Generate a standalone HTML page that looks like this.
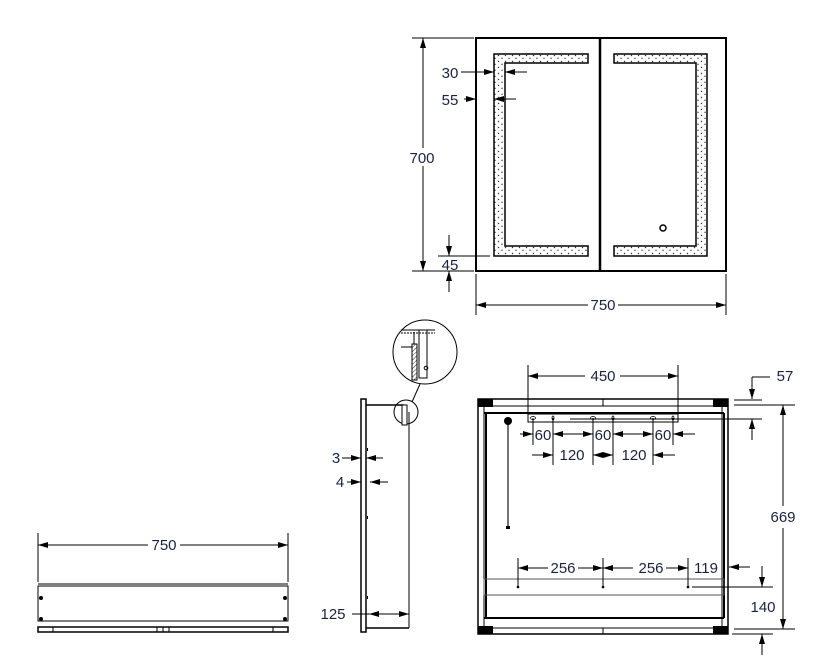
<!DOCTYPE html>
<html><head><style>
html,body{margin:0;padding:0;background:#fff;}
svg{display:block;}
text{font-family:"Liberation Sans",sans-serif;font-size:15px;fill:#1a2240;}
</style></head><body>
<svg width="826" height="658" viewBox="0 0 826 658" xmlns="http://www.w3.org/2000/svg">
<defs>
<marker id="a" viewBox="0 0 10 6" refX="10" refY="3" markerWidth="10" markerHeight="6" orient="auto-start-reverse" markerUnits="userSpaceOnUse"><path d="M0,0L10,3L0,6z" fill="#000"/></marker>
<pattern id="dots" width="7" height="6" patternUnits="userSpaceOnUse"><rect width="7" height="6" fill="#fff"/><circle cx="1.5" cy="1.5" r="0.7" fill="#333"/><circle cx="5" cy="4.3" r="0.7" fill="#333"/></pattern>
<pattern id="hatch" width="3" height="3" patternUnits="userSpaceOnUse" patternTransform="rotate(45)"><line x1="0" y1="0" x2="0" y2="3" stroke="#000" stroke-width="0.8"/></pattern>
</defs>
<g stroke="#000" fill="none" stroke-width="1">
<!-- TOP VIEW -->
<rect x="476" y="38" width="250" height="233" stroke-width="2"/>
<line x1="600" y1="38" x2="600" y2="271" stroke-width="2.5"/>
<path d="M494,54H588V63H505V246H588V256H494Z" fill="url(#dots)" stroke-width="1.5"/>
<path d="M614,54H707V256H614V246H696V63H614Z" fill="url(#dots)" stroke-width="1.5"/>
<circle cx="663" cy="228" r="3" stroke-width="1.5"/>
<!-- 700 -->
<line x1="412" y1="38" x2="474" y2="38"/>
<line x1="412" y1="271" x2="474" y2="271"/>
<line x1="423" y1="38" x2="423" y2="148" marker-start="url(#a)"/>
<line x1="423" y1="166" x2="423" y2="271" marker-end="url(#a)"/>
<!-- 30 -->
<line x1="461" y1="72" x2="494" y2="72" marker-end="url(#a)"/>
<line x1="527" y1="72" x2="505" y2="72" marker-end="url(#a)"/>
<!-- 55 -->
<line x1="464" y1="99" x2="476" y2="99" marker-end="url(#a)"/>
<line x1="516" y1="99" x2="494" y2="99" marker-end="url(#a)"/>
<!-- 45 -->
<line x1="438" y1="256" x2="490" y2="256"/>
<line x1="449" y1="235" x2="449" y2="256" marker-end="url(#a)"/>
<line x1="449" y1="292" x2="449" y2="271" marker-end="url(#a)"/>
<!-- 750 top -->
<line x1="476" y1="274" x2="476" y2="315"/>
<line x1="726" y1="274" x2="726" y2="315"/>
<line x1="476" y1="305" x2="588" y2="305" marker-start="url(#a)"/>
<line x1="618" y1="305" x2="726" y2="305" marker-end="url(#a)"/>

<!-- BOTTOM LEFT -->
<line x1="38" y1="533" x2="38" y2="582"/>
<line x1="288" y1="533" x2="288" y2="582"/>
<line x1="38" y1="545" x2="148" y2="545" marker-start="url(#a)"/>
<line x1="180" y1="545" x2="288" y2="545" marker-end="url(#a)"/>
<line x1="38" y1="584" x2="288" y2="584" stroke-width="1.5" stroke="#555"/>
<rect x="38" y="586" width="250" height="35"/>
<rect x="38" y="627" width="250" height="5" stroke-width="1.5"/>
<line x1="53" y1="627" x2="53" y2="632"/><line x1="273" y1="627" x2="273" y2="632"/>
<line x1="157" y1="627" x2="157" y2="632"/><line x1="163" y1="627" x2="163" y2="632"/><line x1="169" y1="627" x2="169" y2="632"/>
</g>
<g fill="#000">
<circle cx="41" cy="598" r="2"/><circle cx="41" cy="619" r="2"/>
<circle cx="285" cy="598" r="2"/><circle cx="285" cy="619" r="2"/>
</g>

<!-- SIDE VIEW -->
<g stroke="#000" fill="none">
<rect x="361" y="399" width="5" height="233" stroke-width="1.5"/>
<line x1="366" y1="405" x2="404" y2="405" stroke-width="1.5"/>
<line x1="409" y1="412" x2="409" y2="628"/>
<line x1="366" y1="628" x2="409" y2="628" stroke-width="1.5"/>
<circle cx="406" cy="412" r="12"/>
<rect x="402" y="405" width="5" height="20" fill="#fff"/>
<circle cx="425" cy="352" r="32"/>
<line x1="412" y1="402" x2="420" y2="384"/>
<rect x="412" y="344" width="5" height="36" fill="url(#hatch)"/>
<path d="M401,330H435M401,347H412M414,332V344M419,330V378H427V330"/>
<line x1="401" y1="333" x2="435" y2="333" stroke-dasharray="2,1"/>
<circle cx="426" cy="368" r="1.8"/>
<!-- 3,4,125 -->
<line x1="342" y1="458" x2="361" y2="458" marker-end="url(#a)"/>
<line x1="383" y1="458" x2="366" y2="458" marker-end="url(#a)"/>
<line x1="347" y1="482" x2="361" y2="482" marker-end="url(#a)"/>
<line x1="388" y1="482" x2="370" y2="482" marker-end="url(#a)"/>
<line x1="352" y1="614" x2="409" y2="614"/>
<line x1="388" y1="614" x2="369" y2="614" marker-end="url(#a)"/>
<line x1="390" y1="614" x2="409" y2="614" marker-end="url(#a)"/>
</g>
<g fill="#000"><rect x="367" y="448" width="1" height="3"/><rect x="367" y="516" width="1" height="3"/><rect x="367" y="596" width="1" height="3"/></g>

<!-- BACK VIEW -->
<g stroke="#000" fill="none">
<rect x="478" y="399" width="250" height="235" stroke-width="1.5"/>
<line x1="484" y1="406" x2="722" y2="406"/>
<line x1="484" y1="413" x2="724" y2="413" stroke-width="2"/>
<line x1="484" y1="406" x2="484" y2="628"/>
<line x1="722" y1="406" x2="722" y2="628"/>
<line x1="486" y1="413" x2="486" y2="618" stroke-width="2"/>
<line x1="724" y1="413" x2="724" y2="618" stroke-width="2"/>
<line x1="484" y1="618" x2="724" y2="618" stroke-width="2"/>
<line x1="484" y1="628" x2="722" y2="628"/>
<rect x="484" y="579" width="240" height="16" stroke="#555"/>
<line x1="603" y1="399" x2="603" y2="406"/>
<line x1="603" y1="628" x2="603" y2="634"/>
<rect x="528" y="414" width="150" height="8"/>
<line x1="508" y1="420" x2="508" y2="528" stroke-width="1.5" stroke="#444"/>
</g>
<g fill="#000">
<rect x="478" y="399" width="15" height="8"/><rect x="713" y="399" width="15" height="8"/>
<rect x="478" y="626" width="15" height="8"/><rect x="713" y="626" width="15" height="8"/>
<circle cx="508" cy="421" r="4"/>
<rect x="506" y="526" width="4" height="3"/>
<circle cx="518" cy="587" r="1.3"/><circle cx="603" cy="587" r="1.3"/><circle cx="688" cy="587" r="1.3"/>
</g>
<g stroke="#000" fill="none" stroke-width="0.8">
<ellipse cx="533" cy="418" rx="2.5" ry="1.5"/><ellipse cx="553" cy="418" rx="1" ry="2"/>
<ellipse cx="593" cy="418" rx="2.5" ry="1.5"/><ellipse cx="613" cy="418" rx="1" ry="2"/>
<ellipse cx="653" cy="418" rx="2.5" ry="1.5"/><ellipse cx="673" cy="418" rx="1" ry="2"/>
</g>
<g stroke="#000" fill="none">
<!-- 450 -->
<line x1="528" y1="365" x2="528" y2="414"/>
<line x1="678" y1="365" x2="678" y2="414"/>
<line x1="528" y1="376" x2="585" y2="376" marker-start="url(#a)"/>
<line x1="620" y1="376" x2="678" y2="376" marker-end="url(#a)"/>
<!-- 60s -->
<line x1="533" y1="418" x2="533" y2="445"/><line x1="553" y1="418" x2="553" y2="465"/>
<line x1="593" y1="418" x2="593" y2="465"/><line x1="613" y1="418" x2="613" y2="465"/>
<line x1="653" y1="418" x2="653" y2="465"/><line x1="673" y1="418" x2="673" y2="445"/>
<line x1="520" y1="434" x2="533" y2="434" marker-end="url(#a)"/>
<line x1="580" y1="434" x2="553" y2="434" marker-end="url(#a)"/>
<line x1="580" y1="434" x2="593" y2="434" marker-end="url(#a)"/>
<line x1="640" y1="434" x2="613" y2="434" marker-end="url(#a)"/>
<line x1="640" y1="434" x2="653" y2="434" marker-end="url(#a)"/>
<line x1="695" y1="434" x2="673" y2="434" marker-end="url(#a)"/>
<!-- 120s -->
<line x1="532" y1="455" x2="553" y2="455" marker-end="url(#a)"/>
<line x1="593" y1="455" x2="613" y2="455" marker-start="url(#a)" marker-end="url(#a)"/>
<line x1="675" y1="455" x2="653" y2="455" marker-end="url(#a)"/>
<!-- 57 -->
<line x1="752" y1="377" x2="770" y2="377"/>
<line x1="752" y1="377" x2="752" y2="399" marker-end="url(#a)"/>
<line x1="734" y1="400" x2="762" y2="400"/>
<line x1="570" y1="419" x2="762" y2="419"/>
<line x1="752" y1="440" x2="752" y2="419" marker-end="url(#a)"/>
<!-- 669 -->
<line x1="734" y1="405" x2="795" y2="405"/>
<line x1="734" y1="629" x2="795" y2="629"/>
<line x1="783" y1="405" x2="783" y2="506" marker-start="url(#a)"/>
<line x1="783" y1="528" x2="783" y2="629" marker-end="url(#a)"/>
<!-- 256s -->
<line x1="518" y1="558" x2="518" y2="587"/><line x1="603" y1="558" x2="603" y2="587"/><line x1="688" y1="558" x2="688" y2="587"/>
<line x1="518" y1="568" x2="548" y2="568" marker-start="url(#a)"/>
<line x1="578" y1="568" x2="603" y2="568" marker-end="url(#a)"/>
<line x1="603" y1="568" x2="633" y2="568" marker-start="url(#a)"/>
<line x1="666" y1="568" x2="688" y2="568" marker-end="url(#a)"/>
<line x1="750" y1="567" x2="729" y2="567" marker-end="url(#a)"/>
<!-- 140 -->
<line x1="692" y1="587" x2="773" y2="587"/>
<line x1="762" y1="566" x2="762" y2="587" marker-end="url(#a)"/>
<line x1="762" y1="655" x2="762" y2="634" marker-end="url(#a)"/>
<line x1="732" y1="634" x2="773" y2="634"/>
</g>

<g>
<text x="422" y="163" text-anchor="middle">700</text>
<text x="450" y="78" text-anchor="middle">30</text>
<text x="450" y="105" text-anchor="middle">55</text>
<text x="450" y="270" text-anchor="middle">45</text>
<text x="603" y="310" text-anchor="middle">750</text>
<text x="164" y="550" text-anchor="middle">750</text>
<text x="336" y="463" text-anchor="middle">3</text>
<text x="340" y="487" text-anchor="middle">4</text>
<text x="333" y="619" text-anchor="middle">125</text>
<text x="603" y="381" text-anchor="middle">450</text>
<text x="785" y="381" text-anchor="middle">57</text>
<text x="543" y="440" text-anchor="middle">60</text>
<text x="603" y="440" text-anchor="middle">60</text>
<text x="663" y="440" text-anchor="middle">60</text>
<text x="572" y="460" text-anchor="middle">120</text>
<text x="634" y="460" text-anchor="middle">120</text>
<text x="783" y="522" text-anchor="middle">669</text>
<text x="563" y="573" text-anchor="middle">256</text>
<text x="651" y="573" text-anchor="middle">256</text>
<text x="706" y="573" text-anchor="middle">119</text>
<text x="763" y="612" text-anchor="middle">140</text>
</g>
</svg>
</body></html>
